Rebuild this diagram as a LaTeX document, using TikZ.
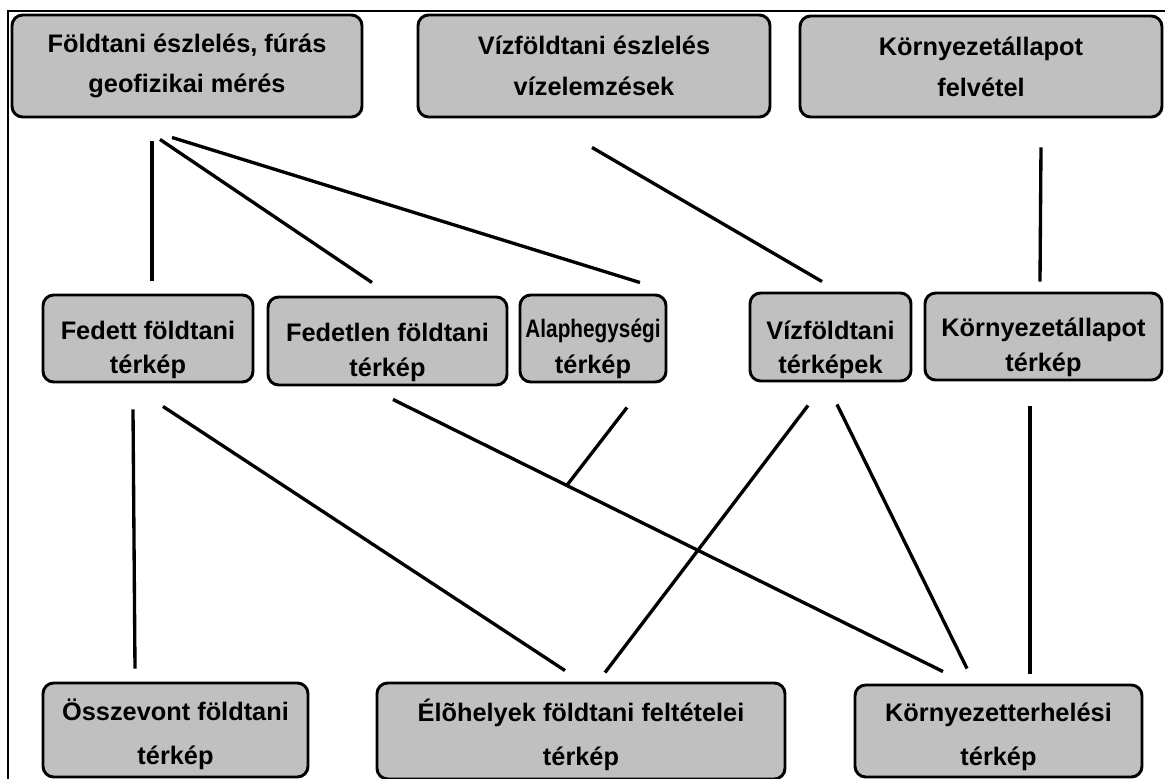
\documentclass[tikz,border=0pt]{standalone}
\usepackage{fontspec}
\setmainfont{Liberation Sans}
\usepackage{graphicx}
\usepackage{tikz}
\definecolor{boxgray}{HTML}{C0C0C0}
\newcommand{\lejjebb}[1]{\rule{0pt}{#1}}

\begin{document}
\begin{tikzpicture}[x=0.75pt,y=-0.75pt,
    box/.style={draw, line width=2.2pt, rounded corners=8pt, fill=boxgray,
        align=center, inner sep=0pt, font=\bfseries\fontsize{19}{29}\selectfont},
    link/.style={line width=2.5pt}]
    \useasboundingbox (0,0) rectangle (1165,779);
    \draw[line width=1.5pt] (8,779) -- (8,11) -- (1165,11);

    % felso sor
    \node[box, minimum width=262.5pt, minimum height=76.5pt] (fold) at (187,66)
        {Földtani észlelés, fúrás\\[1pt]geofizikai mérés};
    \node[box, minimum width=264pt, minimum height=76.5pt] (vizeszl) at (594,66)
        {Vízföldtani észlelés\\[2pt]vízelemzések};
    \node[box, minimum width=271.5pt, minimum height=75.75pt] (kornyfel) at (981,66.5)
        {Környezetállapot\\[2pt]felvétel};

    % kozepso sor
    \node[box, minimum width=157.5pt, minimum height=65.25pt] (fedett) at (148,338.5)
        {\lejjebb{31pt}Fedett földtani\\[-3pt]térkép};
    \node[box, minimum width=179.25pt, minimum height=66pt] (fedetlen) at (387.5,341)
        {\lejjebb{31pt}Fedetlen földtani\\[-3pt]térkép};
    \node[box, minimum width=109.5pt, minimum height=65.25pt] (alap) at (593,338.5)
        {\lejjebb{29pt}\scalebox{0.82}[1]{Alaphegységi}\\[-2pt]térkép};
    \node[box, minimum width=120.75pt, minimum height=66pt] (vizterk) at (830.5,337)
        {\lejjebb{33pt}Vízföldtani\\[-4pt]térképek};
    \node[box, minimum width=177.75pt, minimum height=65.25pt] (kornyterk) at (1043.5,336.5)
        {\lejjebb{30pt}Környezetállapot\\[-3pt]térkép};

    % also sor
    \node[box, minimum width=198.75pt, minimum height=70.5pt] (ossz) at (175.5,730)
        {\lejjebb{23pt}Összevont földtani\\[4pt]térkép};
    \node[box, minimum width=306pt, minimum height=72pt] (eloh) at (581,731)
        {\lejjebb{23pt}Élõhelyek földtani feltételei\\[4pt]térkép};
    \node[box, minimum width=215.25pt, minimum height=69pt] (terh) at (998.5,731)
        {\lejjebb{22pt}Környezetterhelési\\[4pt]térkép};

    % kapcsolatok
    \draw[link] ([shift={(-35,23)}]fold.south) -- ([shift={(4,-13)}]fedett.north);
    \draw[link] ([shift={(-27,21)}]fold.south) -- ([shift={(-15.5,-13)}]fedetlen.north);
    \draw[link] ([shift={(-15,19)}]fold.south) -- ([shift={(47,-11)}]alap.north);
    \draw[link] ([shift={(-2,29)}]vizeszl.south) -- ([shift={(-8.5,-10)}]vizterk.north);
    \draw[link] ([shift={(60,29)}]kornyfel.south) -- ([shift={(-3.5,-10)}]kornyterk.north);

    \draw[link] ([shift={(-15,26)}]fedett.south) -- ([shift={(-40.5,-13)}]ossz.north);
    \draw[link] ([shift={(15,23)}]fedett.south) -- ([shift={(-16,-11)}]eloh.north);
    \draw[link] ([shift={(5.5,13)}]fedetlen.south) -- coordinate[pos=0.316] (meet)
        ([shift={(-55.5,-12)}]terh.north);
    \draw[link] ([shift={(34,24)}]alap.south) -- (meet);
    \draw[link] ([shift={(-22.5,23)}]vizterk.south) -- ([shift={(24,-9)}]eloh.north);
    \draw[link] ([shift={(6.5,22)}]vizterk.south) -- ([shift={(-31.5,-15)}]terh.north);
    \draw[link] ([shift={(-13.5,25)}]kornyterk.south) -- ([shift={(31.5,-10)}]terh.north);
\end{tikzpicture}
\end{document}
